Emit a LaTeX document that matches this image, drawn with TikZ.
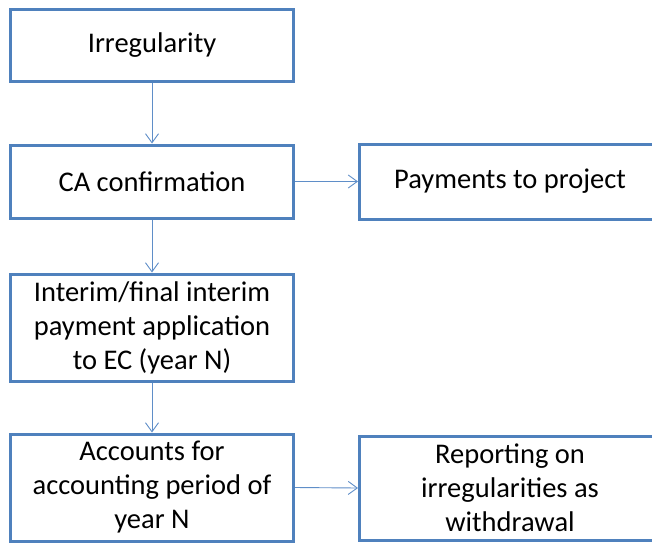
\documentclass[tikz,border=0pt]{standalone}
\usepackage{fontspec}
\setmainfont{Carlito}
\usetikzlibrary{arrows.meta}
\definecolor{boxblue}{RGB}{79,129,189}
\definecolor{linkblue}{RGB}{95,142,200}
\begin{document}
\begin{tikzpicture}[x=1pt,y=-1pt,
  stage/.style={draw=boxblue,line width=3pt,align=center,inner sep=0pt,
    minimum width=283pt,font=\fontsize{28.5}{34}\selectfont},
  flow/.style={draw=linkblue,line width=0.9pt,-{Straight Barb[length=9pt,width=13pt]}}]
  \useasboundingbox (0,0) rectangle (652,543);
  \clip (0,0) rectangle (652,543);
  % left column
  \node[stage,minimum height=71pt] (irr) at (152,45.5) {Irregularity};
  \node[stage,minimum height=73pt] (ca) at (152,181.5) {CA confirmation};
  \node[stage,minimum height=107pt] (int) at (152,327.5)
       {Interim/final interim\\payment application\\to EC (year N)};
  \node[stage,minimum height=107pt] (acc) at (152,487.5)
       {Accounts for\\accounting period of\\year N};
  % right column
  \node[stage,minimum width=301pt,minimum height=75pt] (pay) at (510,181.5) {Payments to project};
  \node[stage,minimum width=301pt,minimum height=104pt] (rep) at (510,488)
       {Reporting on\\irregularities as\\withdrawal};
  \draw[flow] (irr.south) -- (ca.north);
  \draw[flow] (ca.south) -- (int.north);
  \draw[flow] (int.south) -- (acc.north);
  \draw[flow] (ca.east) -- (pay.west);
  \draw[flow] (acc.east) -- (rep.west);
\end{tikzpicture}
\end{document}
